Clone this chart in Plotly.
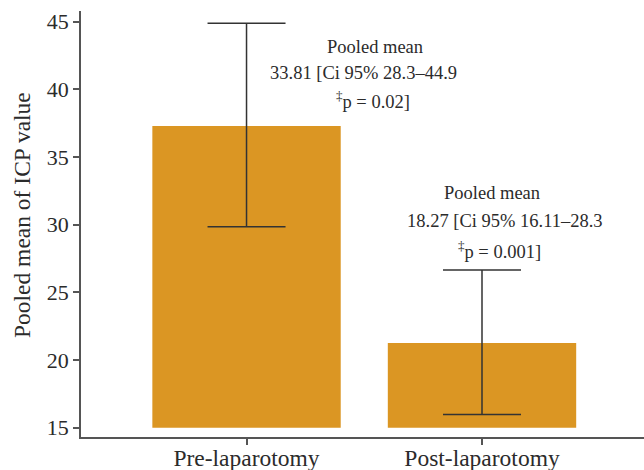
import plotly.graph_objects as go

categories = ["Pre-laparotomy", "Post-laparotomy"]
bar_base = 15
bar_tops = [37.3, 21.25]
err_upper = [44.88, 26.65]
err_lower = [29.85, 15.98]
y_ticks = [15, 20, 25, 30, 35, 40, 45]

FONT = "Liberation Serif"
TXT = "#2b2b2b"
BAR = "#DB9623"

dagger = "<sup><span style='color:%s'>\u2021</span></sup>" % TXT
notes = [
    ("Pooled mean", 0.544, 43.15),
    ("33.81 [Ci 95% 28.3\u201344.9", 0.498, 41.21),
    (dagger + "p = 0.02]", 0.537, 39.21),
    ("Pooled mean", 1.044, 32.34),
    ("18.27 [Ci 95% 16.11\u201328.3", 1.097, 30.24),
    (dagger + "p = 0.001]", 1.074, 28.13),
]

fig = go.Figure()
fig.add_trace(go.Bar(
    x=[0, 1],
    y=[t - bar_base for t in bar_tops],
    base=[bar_base, bar_base],
    width=0.8,
    marker=dict(color=BAR, line=dict(width=0)),
    showlegend=False,
    hoverinfo="skip",
))
fig.add_trace(go.Scatter(
    x=[0, 1],
    y=bar_tops,
    mode="markers",
    marker=dict(size=1, color="rgba(0,0,0,0)"),
    error_y=dict(
        type="data",
        symmetric=False,
        array=[u - t for u, t in zip(err_upper, bar_tops)],
        arrayminus=[t - l for l, t in zip(err_lower, bar_tops)],
        color="#333333",
        thickness=1.5,
        width=39,
    ),
    showlegend=False,
    hoverinfo="skip",
))

annotations = []
for text, x, y in notes:
    annotations.append(dict(
        text=text, x=x, y=y, xref="x", yref="y",
        showarrow=False, xanchor="center", yanchor="middle",
        font=dict(family=FONT, size=18.5, color=TXT),
    ))
annotations.append(dict(
    text="Pooled mean of ICP value", x=-0.1048, y=0.521,
    xref="paper", yref="paper", showarrow=False, textangle=-90,
    xanchor="center", yanchor="middle",
    font=dict(family=FONT, size=23.5, color=TXT),
))

fig.update_layout(
    width=644, height=470,
    margin=dict(l=81, r=0, t=11, b=33, autoexpand=False),
    paper_bgcolor="white", plot_bgcolor="white",
    font=dict(family=FONT, size=22, color=TXT),
    annotations=annotations,
    bargap=0.2,
)
fig.update_xaxes(
    range=[-0.703, 1.688],
    tickmode="array", tickvals=[0, 1], ticktext=categories,
    showline=True, linecolor="#555555", linewidth=1.5,
    ticks="outside", ticklen=6, tickcolor="#555555", tickwidth=1.5,
    ticklabelstandoff=-7,
    showgrid=False, zeroline=False, automargin=False,
    tickfont=dict(family=FONT, size=23.5, color=TXT),
)
fig.update_yaxes(
    range=[14.31, 45.79],
    tickmode="array", tickvals=y_ticks,
    showline=True, linecolor="#555555", linewidth=1.5,
    ticks="outside", ticklen=6, tickcolor="#555555", tickwidth=1.5,
    showgrid=False, zeroline=False, automargin=False,
    tickfont=dict(family=FONT, size=22, color=TXT),
)

fig.write_html("out.html")
